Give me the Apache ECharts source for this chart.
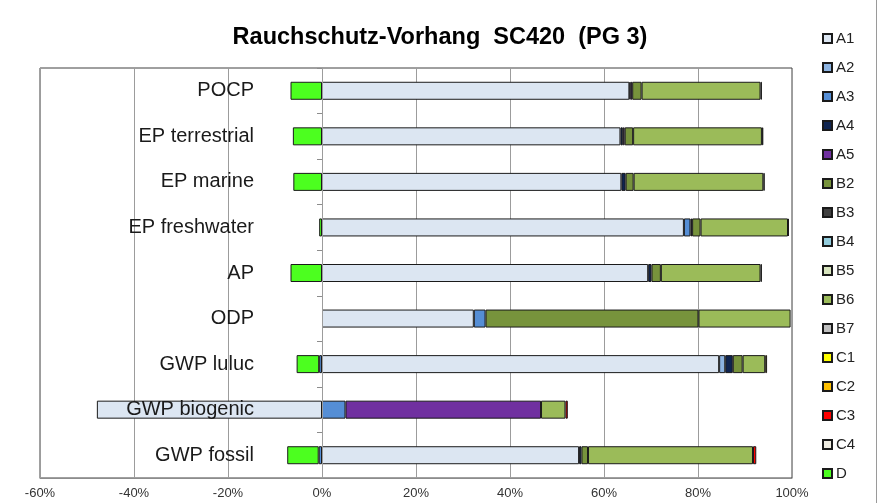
<!DOCTYPE html>
<html>
<head>
<meta charset="utf-8">
<script src="https://cdn.jsdelivr.net/npm/echarts@6/dist/echarts.min.js"></script>
<style>
    html, body {margin: 0; padding: 0; background: #fff;}
    #chart {width: 880px; height: 503px;}
</style>
</head>
<body>
<div id="chart"></div>
<script>
//  categories, top to bottom
const categories = ['POCP', 'EP terrestrial', 'EP marine', 'EP freshwater', 'AP', 'ODP', 'GWP luluc', 'GWP biogenic', 'GWP fossil'];

//  x axis ticks (%)
const xTicks = [-60, -40, -20, 0, 20, 40, 60, 80, 100];

//  module names (legend order)
const modules = ['A1', 'A2', 'A3', 'A4', 'A5', 'B2', 'B3', 'B4', 'B5', 'B6', 'B7', 'C1', 'C2', 'C3', 'C4', 'D'];

//  share of each module in %, same order as categories
const A1 = [65.4, 63.5, 63.7, 77.0, 69.4, 32.3, 84.5, -47.9, 54.7];
const A2 = [null, null, null, null, null, null, 1.3, null, null];
const A3 = [null, null, null, 1.4, null, 2.5, -0.6, 5.0, -0.7];
const A4 = [0.2, 0.5, 0.9, 0.35, 0.7, null, 1.6, null, 0.5];
const A5 = [0.4, 0.4, null, null, null, null, null, 41.6, null];
const B2 = [2.0, 1.8, 1.7, 1.8, 2.0, 45.3, 2.1, null, 1.4];
const B3 = [null, null, null, null, null, null, null, null, null];
const B4 = [null, null, null, null, null, null, null, null, null];
const B5 = [null, null, null, null, null, null, null, null, null];
const B6 = [25.3, 27.4, 27.6, 18.6, 21.2, 19.6, 4.8, 5.2, 35.1];
const B7 = [null, null, null, null, null, null, null, null, null];
const C1 = [null, null, null, null, null, null, null, null, null];
const C2 = [null, null, null, null, null, null, 0.4, null, null];
const C3 = [null, null, null, null, null, null, null, 0.5, 0.7];
const C4 = [0.3, 0.3, 0.3, 0.2, 0.3, null, null, null, null];
const D = [-6.7, -6.2, -6.1, -0.6, -6.7, null, -4.8, null, -6.7];

const moduleData = [A1, A2, A3, A4, A5, B2, B3, B4, B5, B6, B7, C1, C2, C3, C4, D];

//  colours
const moduleColors = [
    '#DCE6F2', '#8DB4E2', '#558ED5', '#0F2450', '#7030A0',
    '#77933C', '#404040', '#93CDDD', '#D7E4BD', '#9BBB59',
    '#BFBFBF', '#FFFF00', '#FFC000', '#FF0000', '#EEECE1', '#4CFF1F',
];

const FONT = 'Liberation Sans, Arial, sans-serif';

function getSeries() {
    return modules.map(function (name, i) {
        return {
            name: name,
            type: 'bar',
            stack: 'total',
            barWidth: 18,
            data: moduleData[i],
            itemStyle: {
                color: moduleColors[i],
                borderColor: '#1a1a1a',
                borderWidth: 1,
            },
        };
    });
}

const myChart = echarts.init(document.getElementById('chart'), null, {renderer: 'canvas'});
myChart.setOption({
    backgroundColor: '#ffffff',
    animation: false,
    title: {
        text: 'Rauchschutz-Vorhang  SC420  (PG 3)',
        left: 'center',
        top: 21,
        textStyle: {fontFamily: FONT, fontSize: 23.5, fontWeight: 'bold', color: '#000'},
    },
    legend: {
        orient: 'vertical',
        left: 822,
        top: 31,
        padding: 0,
        itemWidth: 9,
        itemHeight: 9,
        itemGap: 14,
        icon: 'rect',
        data: modules,
        textStyle: {fontFamily: FONT, fontSize: 15, color: '#222', padding: [0, 0, 0, -1]},
    },
    grid: {
        left: 40,
        right: 88,
        top: 68,
        bottom: 25,
        containLabel: false,
        outerBoundsMode: 'none',
        show: true,
        borderColor: '#404040',
        borderWidth: 1,
    },
    xAxis: {
        type: 'value',
        min: xTicks[0],
        max: xTicks[xTicks.length - 1],
        interval: 20,
        axisLine: {show: true, lineStyle: {color: '#8c8c8c'}},
        axisTick: {show: false},
        splitLine: {show: true, lineStyle: {color: '#9c9c9c'}},
        axisLabel: {
            formatter: '{value}%',
            fontFamily: FONT,
            fontSize: 13,
            color: '#333',
            margin: 9,
        },
    },
    yAxis: {
        type: 'category',
        data: categories,
        inverse: true,
        z: 5,
        axisLine: {onZero: true, lineStyle: {color: '#9c9c9c'}},
        axisTick: {show: true, length: 5, lineStyle: {color: '#8c8c8c'}},
        //  labels sit just left of the 0% line, inside the plot
        axisLabel: {fontFamily: FONT, fontSize: 20, color: '#1a1a1a', margin: -214},
        splitLine: {show: false},
    },
    graphic: [{
        type: 'line',
        shape: {x1: 876.5, y1: 0, x2: 876.5, y2: 503},
        style: {stroke: '#9a9a9a', lineWidth: 1},
    }],
    series: getSeries(),
});
</script>
</body>
</html>
